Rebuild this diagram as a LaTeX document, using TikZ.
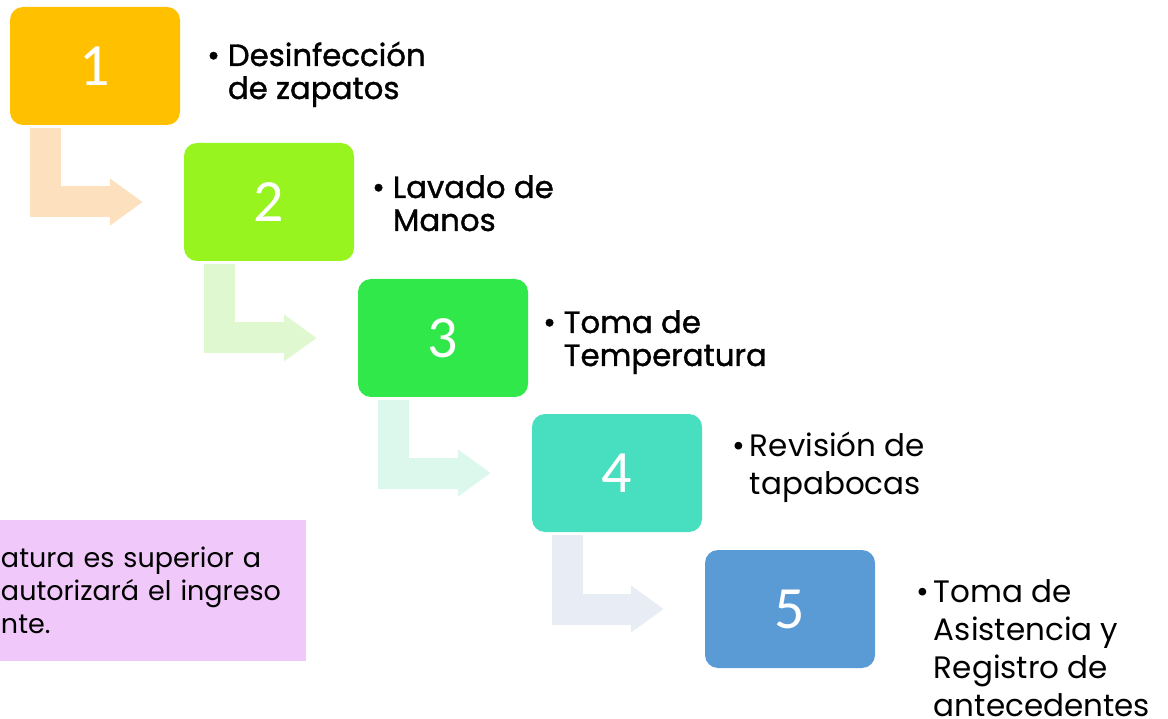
\documentclass[tikz,border=0pt]{standalone}
\usepackage{fontspec}
\setmainfont{Poppins}
\newfontfamily\numfont{Carlito}
\newfontfamily\heavyfont{Poppins}[FakeBold=1.2]
\usetikzlibrary{arrows.meta,positioning}
\definecolor{stepone}{HTML}{FFC000}
\definecolor{steptwo}{HTML}{97F41E}
\definecolor{stepthree}{HTML}{30E84A}
\definecolor{stepfour}{HTML}{48DEC0}
\definecolor{stepfive}{HTML}{5B9BD5}
\definecolor{flowone}{HTML}{FDE1BF}
\definecolor{flowtwo}{HTML}{E0F8D0}
\definecolor{flowthree}{HTML}{DCF7EC}
\definecolor{flowfour}{HTML}{E8ECF5}
\definecolor{notepink}{HTML}{F0C8FA}
\newcommand{\bul}{\textbullet\hspace{8pt}}
\newcommand{\ind}{\phantom{\bul}}
\newcommand{\tbul}{\textbullet\hspace{5pt}}
\newcommand{\tind}{\phantom{\tbul}}

\begin{document}
\begin{tikzpicture}[x=1pt,y=-1pt,
  stepbox/.style={rounded corners=13pt,minimum width=170pt,minimum height=118pt,
    inner sep=0pt,text=white,font=\numfont\fontsize{60}{60}\selectfont},
  flow/.style={line width=31pt,line join=miter,-{Triangle[length=33pt,width=45pt]}},
  boldtext/.style={anchor=base west,inner sep=0pt,font=\heavyfont\fontsize{30.8}{33}\selectfont},
  thintext/.style={anchor=base west,inner sep=0pt,font=\fontsize{31}{38}\selectfont},
  notebox/.style={fill=notepink,minimum width=306pt,minimum height=141pt,text width=304pt,
    inner xsep=1pt,align=left,font=\fontsize{27}{33}\selectfont}]
\useasboundingbox (0,0) rectangle (1168,719);

% Note box
\node[notebox] (aviso) at (153,590.5) {atura es superior a\\autorizará el ingreso\\nte.};

% Step boxes
\node[stepbox,fill=stepone] (s1) at (95,66) {1};
\node[stepbox,fill=steptwo] (s2) at (269,202) {2};
\node[stepbox,fill=stepthree] (s3) at (443,338) {3};
\node[stepbox,fill=stepfour] (s4) at (617,473) {4};
\node[stepbox,fill=stepfive] (s5) at (790,609) {5};

% Bent arrows
\draw[flow,flowone] ([xshift=36pt,yshift=-3pt]s1.south west) |- ([xshift=-41pt]s2.west);
\draw[flow,flowtwo] ([xshift=36pt,yshift=-3pt]s2.south west) |- ([xshift=-41pt]s3.west);
\draw[flow,flowthree] ([xshift=36pt,yshift=-3pt]s3.south west) |- ([xshift=-41pt]s4.west);
\draw[flow,flowfour] ([xshift=36pt,yshift=-3pt]s4.south west) |- ([xshift=-41pt]s5.west);

% Labels
\node[boldtext] (t1) at (207,66) {\begin{tabular}[t]{@{}l@{}}\bul Desinfección\\\ind de zapatos\end{tabular}};
\node[boldtext] (t2) at (372,198) {\begin{tabular}[t]{@{}l@{}}\bul Lavado de\\\ind Manos\end{tabular}};
\node[boldtext] (t3) at (543,333) {\begin{tabular}[t]{@{}l@{}}\bul Toma de\\\ind Temperatura\end{tabular}};
\node[thintext] (t4) at (732,456) {\begin{tabular}[t]{@{}l@{}}\tbul Revisión de\\\tind tapabocas\end{tabular}};
\node[thintext] (t5) at (916,602) {\begin{tabular}[t]{@{}l@{}}\tbul Toma de\\\tind Asistencia y\\\tind Registro de\\\tind antecedentes\end{tabular}};
\end{tikzpicture}
\end{document}
